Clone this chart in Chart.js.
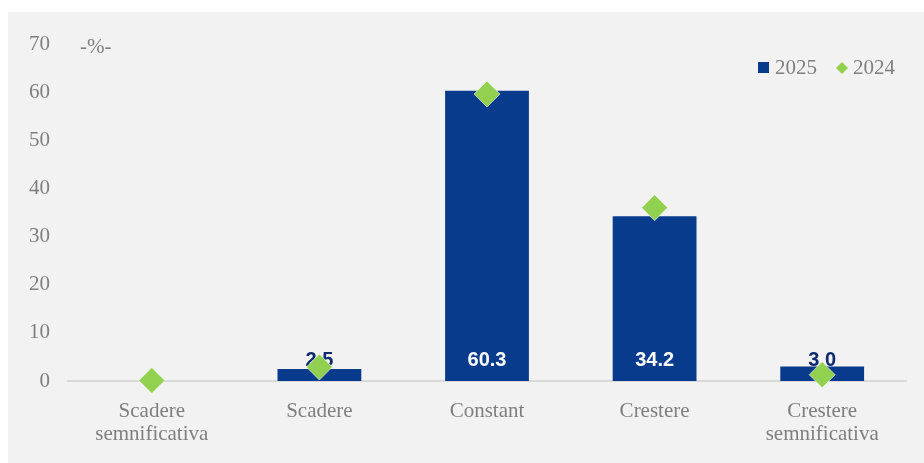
<!DOCTYPE html>
<html>
<head>
<meta charset="utf-8">
<style>
  html, body { margin: 0; padding: 0; background: #ffffff; }
  #wrap { position: relative; width: 924px; height: 463px; }
</style>
<script src="https://cdn.jsdelivr.net/npm/chart.js@4/dist/chart.umd.min.js"></script>
</head>
<body>
<div id="wrap"><canvas id="chart" width="924" height="463"></canvas></div>
<script>
// Categories and series
const categories = [['Scadere', 'semnificativa'], 'Scadere', 'Constant', 'Crestere', ['Crestere', 'semnificativa']];
const values2025 = [null, 2.5, 60.3, 34.2, 3.0];
const values2024 = [0.1, 2.9, 59.6, 36.0, 1.3];
const yTicks = [0, 10, 20, 30, 40, 50, 60, 70];

const BLUE = '#083b8c';
const GREEN = '#92d050';
const GREY = '#7f7f7f';
const SERIF = '"Liberation Serif", "Times New Roman", serif';

// Grey panel behind everything, plus the unit note and the legend
const decor = {
    id: 'decor',
    beforeDraw(chart) {
        const ctx = chart.ctx;
        ctx.save();
        ctx.fillStyle = '#f2f2f2';
        ctx.fillRect(8, 12, chart.width - 8, chart.height - 12);
        ctx.restore();
    },
    afterDraw(chart) {
        const ctx = chart.ctx;
        ctx.save();
        ctx.fillStyle = GREY;
        ctx.font = '21px ' + SERIF;
        ctx.textBaseline = 'middle';
        ctx.textAlign = 'left';
        ctx.fillText('-%-', 80, 47);

        // legend
        const ly = 68;
        ctx.fillStyle = BLUE;
        ctx.fillRect(758, ly - 6, 11, 11);
        ctx.fillStyle = GREY;
        ctx.fillText(chart.data.datasets[0].label, 775, ly);
        ctx.fillStyle = GREEN;
        ctx.beginPath();
        ctx.moveTo(842, ly - 6);
        ctx.lineTo(848, ly);
        ctx.lineTo(842, ly + 6);
        ctx.lineTo(836, ly);
        ctx.closePath();
        ctx.fill();
        ctx.fillStyle = GREY;
        ctx.fillText(chart.data.datasets[1].label, 853, ly);
        ctx.restore();
    }
};

// Value labels at the base of each 2025 bar (drawn before the diamonds)
const barLabels = {
    id: 'barLabels',
    afterDatasetDraw(chart, args) {
        if (args.index !== 0) return;
        const ctx = chart.ctx;
        const meta = args.meta;
        ctx.save();
        ctx.font = 'bold 20px "Liberation Sans", Arial, sans-serif';
        ctx.textAlign = 'center';
        ctx.textBaseline = 'middle';
        meta.data.forEach((bar, i) => {
            const v = values2025[i];
            if (v === null) return;
            const tall = bar.base - bar.y > 30;
            ctx.fillStyle = tall ? '#ffffff' : '#0c2a6e';
            ctx.fillText(v.toFixed(1), bar.x, bar.base - 21);
        });
        ctx.restore();
    }
};

new Chart(document.getElementById('chart'), {
    type: 'bar',
    data: {
        labels: categories,
        datasets: [
            {
                label: '2025',
                data: values2025,
                backgroundColor: BLUE,
                barPercentage: 0.5,
                categoryPercentage: 1.0,
                order: 2
            },
            {
                type: 'line',
                label: '2024',
                data: values2024,
                showLine: false,
                clip: false,
                pointStyle: 'rectRot',
                pointRadius: 13,
                pointHoverRadius: 13,
                pointBackgroundColor: GREEN,
                pointBorderColor: 'rgba(255,255,255,0.55)',
                pointBorderWidth: 1,
                order: 1
            }
        ]
    },
    options: {
        responsive: false,
        animation: false,
        layout: { padding: { left: 8, right: 18, top: 44, bottom: 0 } },
        plugins: {
            legend: { display: false },
            tooltip: { enabled: false }
        },
        scales: {
            x: {
                grid: { display: false },
                border: { color: '#d9d9d9', width: 2 },
                ticks: {
                    color: GREY,
                    font: { family: SERIF, size: 21, lineHeight: 1.1 },
                    padding: 11,
                    maxRotation: 0,
                    autoSkip: false
                },
                afterFit(scale) { scale.height = 82; }
            },
            y: {
                min: 0,
                max: 70,
                afterBuildTicks(scale) { scale.ticks = yTicks.map(v => ({ value: v })); },
                grid: { display: false, drawTicks: false },
                border: { display: false },
                ticks: {
                    color: GREY,
                    font: { family: SERIF, size: 21 },
                    padding: 18
                },
                afterFit(scale) { scale.width = 60; }
            }
        }
    },
    plugins: [decor, barLabels]
});
</script>
</body>
</html>
